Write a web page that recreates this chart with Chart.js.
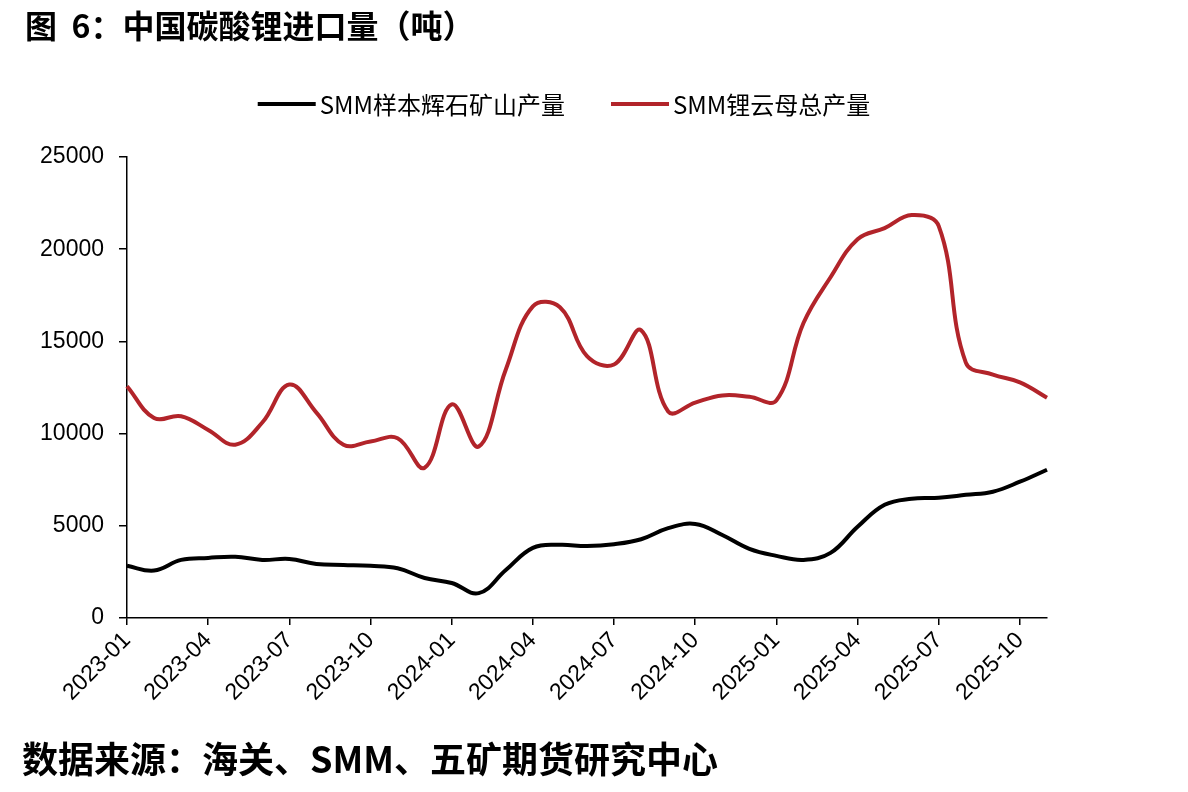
<!DOCTYPE html>
<html>
<head>
<meta charset="utf-8">
<script src="https://cdn.jsdelivr.net/npm/chart.js@4.4.1/dist/chart.umd.min.js"></script>
<style>
  html, body { margin: 0; padding: 0; background: #fff; }
  #wrap { position: relative; width: 1188px; height: 792px; overflow: hidden; }
  canvas { position: absolute; left: 0; top: 0; }
  .caption {
    position: absolute; color: #000; white-space: pre;
    font-family: "Noto Sans CJK SC", sans-serif; font-weight: 700;
  }
  #title { left: 25px; top: 8px; font-size: 32px; line-height: 32px; }
  #source { left: 22px; top: 739px; font-size: 36px; line-height: 36px; }
</style>
</head>
<body>
<div id="wrap">
  <canvas id="chart" width="1188" height="792"></canvas>
  <div id="title" class="caption">图  6：中国碳酸锂进口量（吨）</div>
  <div id="source" class="caption">数据来源：海关、SMM、五矿期货研究中心</div>
</div>
<script>
// ─── DATA ──────────────────────────────────────────────────
const months = [
  "2023-01", "2023-02", "2023-03", "2023-04", "2023-05", "2023-06",
  "2023-07", "2023-08", "2023-09", "2023-10", "2023-11", "2023-12",
  "2024-01", "2024-02", "2024-03", "2024-04", "2024-05", "2024-06",
  "2024-07", "2024-08", "2024-09", "2024-10", "2024-11", "2024-12",
  "2025-01", "2025-02", "2025-03", "2025-04", "2025-05", "2025-06",
  "2025-07", "2025-08", "2025-09", "2025-10", "2025-11",
];

// SMM样本辉石矿山产量
const spodumeneMines = [
  2830, 2570, 3150, 3260, 3320, 3150, 3200, 2930, 2880, 2830, 2700, 2170,
  1900, 1350, 2600, 3800, 3970, 3900, 4000, 4270, 4870, 5100, 4500, 3750,
  3370, 3150, 3530, 4950, 6140, 6470, 6520, 6680, 6850, 7390, 8040,
];

// SMM锂云母总产量
const lepidoliteTotal = [
  12570, 10850, 10940, 10200, 9400, 10600, 12660, 11140, 9400, 9570, 9750, 8150,
  11580, 9300, 13480, 16900, 16850, 14200, 13750, 15600, 11200, 11680, 12070, 12000,
  11800, 16000, 18480, 20540, 21140, 21850, 21250, 13850, 13200, 12780, 11950,
];

const yTicks = [0, 5000, 10000, 15000, 20000, 25000];
const xTickEvery = 3;

// ─── LEGEND (line sample + text, centred over the plot) ────
const lineLegend = {
  id: "lineLegend",
  afterDraw(chart, args, opts) {
    const { ctx } = chart;
    ctx.save();
    ctx.font = opts.font;
    ctx.textBaseline = "middle";
    const items = chart.data.datasets.map(ds => ({
      text: ds.label,
      color: ds.borderColor,
      width: opts.sampleWidth + opts.gap + ctx.measureText(ds.label).width,
    }));
    const total = items.reduce((s, it) => s + it.width, 0) + opts.spacing * (items.length - 1);
    let x = opts.centerX - total / 2;
    for (const it of items) {
      ctx.strokeStyle = it.color;
      ctx.lineWidth = opts.lineWidth;
      ctx.beginPath();
      ctx.moveTo(x, opts.y);
      ctx.lineTo(x + opts.sampleWidth, opts.y);
      ctx.stroke();
      ctx.fillStyle = "#000";
      ctx.fillText(it.text, x + opts.sampleWidth + opts.gap, opts.y + 1);
      x += it.width + opts.spacing;
    }
    ctx.restore();
  },
};

Chart.defaults.font.family = "'Liberation Sans', Arial, sans-serif";
Chart.defaults.color = "#000";

const axisFont = { size: 23 };

new Chart(document.getElementById("chart"), {
  type: "line",
  data: {
    labels: months,
    datasets: [
      {
        label: "SMM样本辉石矿山产量",
        data: spodumeneMines,
        borderColor: "#000000",
        backgroundColor: "#000000",
        borderWidth: 4,
        pointRadius: 0,
        tension: 0.4,
      },
      {
        label: "SMM锂云母总产量",
        data: lepidoliteTotal,
        borderColor: "#B2242A",
        backgroundColor: "#B2242A",
        borderWidth: 4,
        pointRadius: 0,
        tension: 0.4,
      },
    ],
  },
  options: {
    responsive: false,
    animation: false,
    devicePixelRatio: 1,
    layout: { padding: { left: 0, right: 141, top: 157, bottom: 84 } },
    plugins: {
      legend: { display: false },
      tooltip: { enabled: false },
      lineLegend: {
        font: "24px 'Noto Sans CJK SC', sans-serif",
        centerX: 564,
        y: 104,
        sampleWidth: 58,
        lineWidth: 4,
        gap: 4,
        spacing: 46,
      },
    },
    scales: {
      x: {
        afterBuildTicks: scale => {
          scale.ticks = scale.ticks.filter((t, i) => i % xTickEvery === 0);
        },
        afterFit: scale => { scale.height = 90; },
        grid: {
          drawOnChartArea: false,
          drawTicks: true,
          tickLength: 7,
          color: "#000",
          lineWidth: 1.5,
        },
        border: { display: true, color: "#000", width: 1.5 },
        ticks: {
          autoSkip: false,
          maxRotation: 45,
          minRotation: 45,
          padding: 2,
          font: axisFont,
        },
      },
      y: {
        min: 0,
        max: 25000,
        afterBuildTicks: scale => {
          scale.ticks = yTicks.map(v => ({ value: v }));
        },
        afterFit: scale => { scale.width = 127; },
        grid: {
          drawOnChartArea: false,
          drawTicks: true,
          tickLength: 8,
          color: "#000",
          lineWidth: 1.5,
        },
        border: { display: true, color: "#000", width: 1.5 },
        ticks: {
          padding: 15,
          font: axisFont,
          callback: v => String(v),
        },
      },
    },
  },
  plugins: [lineLegend],
});
</script>
</body>
</html>
